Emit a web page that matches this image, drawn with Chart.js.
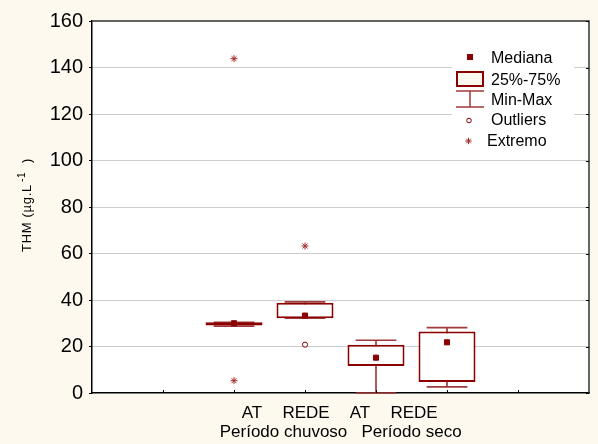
<!DOCTYPE html>
<html><head><meta charset="utf-8">
<script src="https://cdn.jsdelivr.net/npm/chart.js@4.4.1/dist/chart.umd.min.js"></script>
<style>html,body{margin:0;padding:0;background:#fdf9ee;}canvas{display:block;}</style>
</head><body>
<canvas id="c" width="598" height="444"></canvas>
<script>
// ---- data ----
const categories = ['AT', 'REDE', 'AT', 'REDE'];
const periods = ['Período chuvoso', 'Período seco'];
const catPos = [2, 3, 4, 5];
const minVals = [28.8, 32.2, 0, 2.6];
const q1Vals = [29.0, 32.2, 11.6, 4.7];
const medVals = [30.0, 33.3, 15.2, 21.8];
const q3Vals = [30.4, 38.8, 20.8, 26.4];
const maxVals = [30.4, 39.2, 22.7, 28.1];
const outlierVals = [[], [20.8], [], []];
const extremeVals = [[143.8, 5.3], [63.2], [], []];
const yTickValues = [0, 20, 40, 60, 80, 100, 120, 140, 160];
const legendLabels = ['Mediana', '25%-75%', 'Min-Max', 'Outliers', 'Extremo'];
const yTitleParts = ['THM (µg.L', '-1', ')'];

// ---- styles ----
const DARK = '#8b0000';
const WHISK = '#a03a3a';
const EXT = '#a52a2a';
const CREAM = '#fdf9ee';
const FONT = "'Liberation Sans', Arial, sans-serif";
const LABEL_OFFSETS = [18, 1, -16, -33];
const PERIOD_OFFSETS = [14, 0];
const CAP_HALF = 0.22;

const whiskerData = catPos.map((x, i) => ({x, y: [minVals[i], maxVals[i]]}));
const boxData = catPos.map((x, i) => ({x, y: [q1Vals[i], q3Vals[i]]}));
const capData = catPos.flatMap((x, i) => [
  {x, y: [minVals[i] - CAP_HALF, minVals[i] + CAP_HALF]},
  {x, y: [maxVals[i] - CAP_HALF, maxVals[i] + CAP_HALF]}
]);
const medData = catPos.map((x, i) => ({x, y: medVals[i]}));
const outData = catPos.flatMap((x, i) => outlierVals[i].map(v => ({x, y: v})));
const extData = catPos.flatMap((x, i) => extremeVals[i].map(v => ({x, y: v})));

const decor = {
  id: 'decor',
  beforeDraw(chart) {
    const ctx = chart.ctx, a = chart.chartArea;
    ctx.save();
    ctx.fillStyle = CREAM;
    ctx.fillRect(0, 0, chart.width, chart.height);
    ctx.fillStyle = '#fff';
    ctx.fillRect(a.left, a.top, a.right - a.left, a.bottom - a.top);
    ctx.restore();
  },
  afterDraw(chart) {
    const ctx = chart.ctx, a = chart.chartArea;
    const xs = chart.scales.x, ys = chart.scales.y;
    ctx.save();
    // frame top/right
    ctx.strokeStyle = '#333';
    ctx.lineWidth = 1.5;
    ctx.beginPath();
    ctx.moveTo(a.left, a.top); ctx.lineTo(a.right, a.top); ctx.lineTo(a.right, a.bottom);
    ctx.stroke();
    ctx.lineWidth = 1;
    ctx.strokeStyle = '#000';
    ctx.beginPath();
    ys.ticks.forEach(t => {
      const y = Math.round(ys.getPixelForValue(t.value)) + 0.5;
      ctx.moveTo(a.right - 3, y); ctx.lineTo(a.right, y);
    });
    xs.ticks.forEach(t => {
      if (t.value <= xs.min || t.value >= xs.max) return;
      const x = Math.round(xs.getPixelForValue(t.value)) + 0.5;
      ctx.moveTo(x, a.bottom); ctx.lineTo(x, a.bottom - 3);
    });
    ctx.stroke();

    // x labels
    ctx.fillStyle = '#000';
    ctx.font = '17px ' + FONT;
    ctx.textAlign = 'center';
    ctx.textBaseline = 'alphabetic';
    categories.forEach((c, i) => {
      ctx.fillText(c, xs.getPixelForValue(catPos[i]) + LABEL_OFFSETS[i], a.bottom + 24.5);
    });
    periods.forEach((p, g) => {
      const cx = (xs.getPixelForValue(catPos[2 * g]) + xs.getPixelForValue(catPos[2 * g + 1])) / 2;
      ctx.fillText(p, cx + PERIOD_OFFSETS[g], a.bottom + 44);
    });

    // y title
    ctx.save();
    ctx.translate(31, 252);
    ctx.rotate(-Math.PI / 2);
    ctx.textAlign = 'left';
    ctx.font = '13px ' + FONT;
    ctx.letterSpacing = '0.7px';
    ctx.fillText(yTitleParts[0], 0, 0);
    let w = ctx.measureText(yTitleParts[0]).width;
    ctx.font = '10px ' + FONT;
    ctx.fillText(yTitleParts[1], w + 2, -6);
    ctx.font = '13px ' + FONT;
    ctx.letterSpacing = '0px';
    ctx.fillText(yTitleParts[2], 89, 0);
    ctx.restore();

    // legend
    ctx.fillStyle = '#fff';
    ctx.fillRect(452, 45, 122, 106);
    const rowsBase = [63, 85, 105, 125, 146];
    const textX = [491, 491, 491, 491, 487];
    ctx.fillStyle = '#000';
    ctx.font = '16px ' + FONT;
    ctx.textAlign = 'left';
    legendLabels.forEach((l, i) => ctx.fillText(l, textX[i], rowsBase[i]));
    // symbols
    ctx.fillStyle = DARK;
    ctx.fillRect(467, 54, 6, 6);
    ctx.fillStyle = CREAM;
    ctx.strokeStyle = DARK;
    ctx.lineWidth = 2;
    ctx.fillRect(457, 72, 26, 14);
    ctx.strokeRect(457, 72, 26, 14);
    ctx.strokeStyle = WHISK;
    ctx.lineWidth = 1.5;
    ctx.beginPath();
    ctx.moveTo(456, 91); ctx.lineTo(484, 91);
    ctx.moveTo(470, 91); ctx.lineTo(470, 107);
    ctx.moveTo(456, 107); ctx.lineTo(484, 107);
    ctx.stroke();
    ctx.fillStyle = '#fff'; ctx.strokeStyle = DARK; ctx.lineWidth = 1;
    ctx.beginPath(); ctx.arc(469, 120.5, 2.3, 0, Math.PI * 2); ctx.fill(); ctx.stroke();
    ctx.strokeStyle = EXT;
    Chart.helpers.drawPoint(ctx, {pointStyle: 'star', radius: 3.2, borderWidth: 1}, 468.5, 141);
    ctx.restore();
  }
};

new Chart(document.getElementById('c'), {
  type: 'scatter',
  data: {
    datasets: [
      {type: 'bar', label: 'whisker', data: whiskerData, backgroundColor: WHISK, borderWidth: 0,
        barThickness: 1, maxBarThickness: 1, grouped: false, order: 6, clip: false},
      {type: 'bar', label: 'caps', data: capData, backgroundColor: WHISK, borderWidth: 0,
        barThickness: 40, maxBarThickness: 40, grouped: false, order: 5, clip: false},
      {type: 'bar', label: 'box', data: boxData, backgroundColor: '#fff', borderColor: DARK, borderWidth: 2,
        borderSkipped: false, inflateAmount: 0, barThickness: 57, maxBarThickness: 57, grouped: false, order: 4, clip: false},
      {type: 'scatter', label: 'extremes', data: extData, pointStyle: 'star', radius: 3.5,
        borderColor: EXT, borderWidth: 1, order: 3, clip: false},
      {type: 'scatter', label: 'outliers', data: outData, pointStyle: 'circle', radius: 2.6,
        backgroundColor: '#fff', borderColor: DARK, borderWidth: 1, order: 2, clip: false},
      {type: 'scatter', label: 'median', data: medData, pointStyle: 'rect', radius: 3.6,
        backgroundColor: DARK, borderColor: DARK, borderWidth: 1, order: 1, clip: false}
    ]
  },
  options: {
    responsive: false,
    animation: false,
    devicePixelRatio: 1,
    events: [],
    layout: {padding: {left: 0, right: 9, top: 21, bottom: 0}},
    plugins: {legend: {display: false}, tooltip: {enabled: false}},
    scales: {
      x: {
        type: 'linear', min: 0, max: 7, offset: false,
        ticks: {display: false, stepSize: 1},
        grid: {display: false},
        border: {color: '#000', width: 1.5},
        afterFit: s => { s.height = 51; s.paddingLeft = 0; s.paddingRight = 0; }
      },
      y: {
        type: 'linear', min: 0, max: 160,
        afterBuildTicks: s => { s.ticks = yTickValues.map(v => ({value: v})); },
        afterFit: s => { s.width = 92; },
        ticks: {font: {family: FONT, size: 20}, color: '#000', padding: 6},
        grid: {
          color: c => (c.tick && (c.tick.value === 0 || c.tick.value === 160)) ? 'rgba(0,0,0,0)' : '#9a9a9a',
          lineWidth: 1, tickLength: 3, tickColor: '#000', tickWidth: 1
        },
        border: {color: '#000', width: 1.5, dash: [1, 1]}
      }
    }
  },
  plugins: [decor]
});
</script>
</body></html>
